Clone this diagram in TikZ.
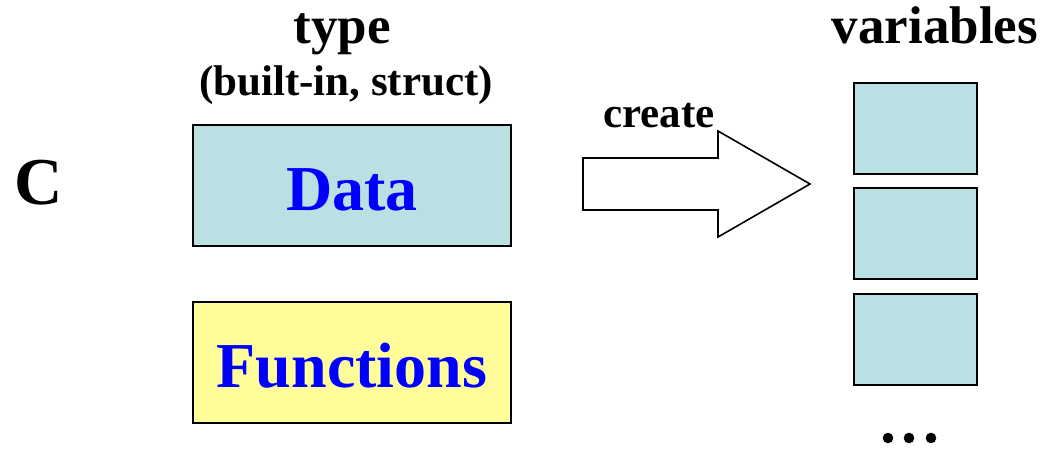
\documentclass[tikz,border=0pt]{standalone}
\usepackage{fontspec}
\setmainfont{Liberation Serif}
\begin{document}
\begin{tikzpicture}[x=1pt,y=-1pt,
  lbl/.style={font=\bfseries\fontsize{43}{48}\selectfont, anchor=base, inner sep=0pt},
  big/.style={font=\bfseries\fontsize{53}{58}\selectfont, anchor=base, inner sep=0pt},
  inbox/.style={font=\bfseries\fontsize{64}{68}\selectfont, anchor=base, inner sep=0pt, text=blue},
  box/.style={draw=black, line width=2pt},
]
\definecolor{cyanfill}{RGB}{187,224,227}
\definecolor{yelfill}{RGB}{255,253,153}
\useasboundingbox (0,0) rectangle (1053,450);
% boxes
\draw[box, fill=cyanfill] (193,125) rectangle (511,246) coordinate (dataSE);
\draw[box, fill=yelfill] (193,302) rectangle (511,423);
\node[inbox] (data) at (352,210) {Data};
\node[inbox] (funcs) at (352,387) {Functions};
% labels
\node[big] (type) at (342,43) {type};
\node[lbl] (bi) at (346,95) {(built-in, struct)};
\node[big, font=\bfseries\fontsize{67}{70}\selectfont] (c) at (39,204) {C};
\node[lbl] (create) at (659,127) {create};
\node[big] (vars) at (935,43) {variables};
% arrow
\draw[line width=1.6pt, fill=white, line join=miter]
  (583,158) -- (718,158) -- (718,131) -- (810,184) -- (718,237) -- (718,210) -- (583,210) -- cycle;
% variable boxes
\draw[box, fill=cyanfill] (854,83) rectangle (977,174);
\draw[box, fill=cyanfill] (854,188) rectangle (977,279);
\draw[box, fill=cyanfill] (854,294) rectangle (977,385);
% dots
\fill (888,438) circle (5.3);
\fill (909,438) circle (5.3);
\fill (931,438) circle (5.3);
\end{tikzpicture}
\end{document}
